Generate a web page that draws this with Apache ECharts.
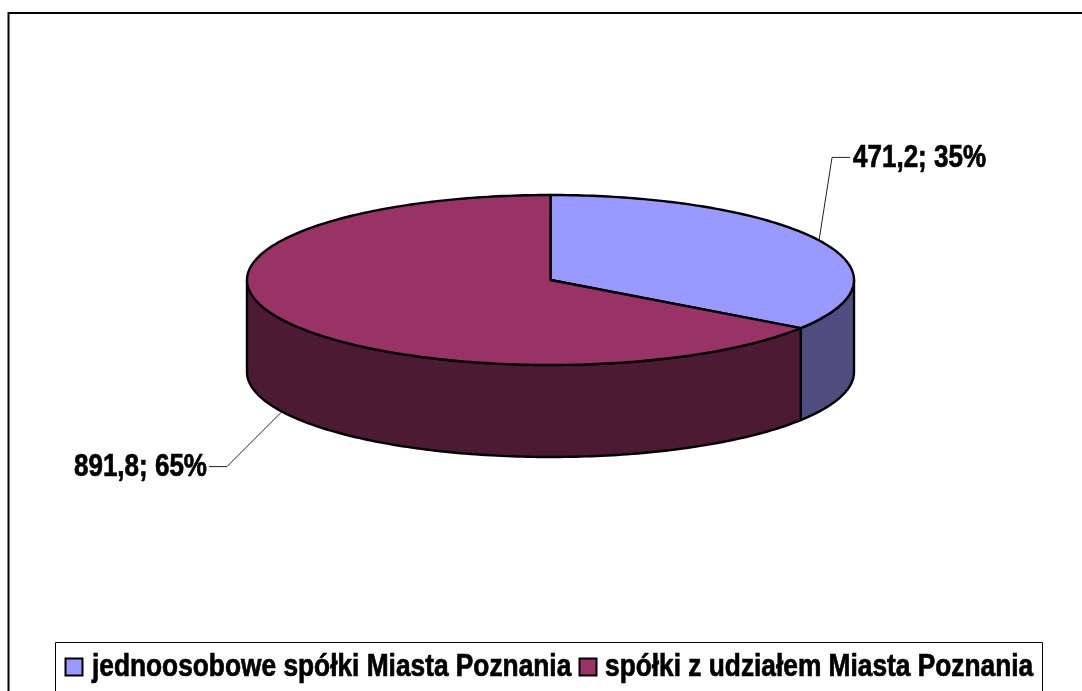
<!DOCTYPE html>
<html>
<head>
<meta charset="utf-8">
<style>
  html, body { margin: 0; padding: 0; background: #fff; overflow: hidden; }
  #chart { width: 1082px; height: 691px; }
</style>
<script src="https://cdn.jsdelivr.net/npm/echarts@6/dist/echarts.min.js"></script>
</head>
<body>
<div id="chart"></div>
<script>
const categories = ['jednoosobowe spółki Miasta Poznania', 'spółki z udziałem Miasta Poznania']
const values = [471.2, 891.8]
const topColors = ['#9999FF', '#993366']
const sideColors = ['#4D4D80', '#4D1A33']

// where the flattened pie sits on the page
const cx = 550.5, cy = 280, rx = 303.5, ry = 85, depth = 92
// leader line: elbow offset from the slice edge, then the stub towards the label
const elbows = [[13, -83], [-55, 55]]
const stubs = [18, -18]
// the original text is Arial stretched upwards, no narrow face is installed so scale it
const fontFamily = '"Liberation Sans", Arial, sans-serif'
const stretchY = 1.18
// legend swatch / text left edges
const legendSwatchX = [65.5, 579.5]
const legendTextX = [92, 605]

const total = values.reduce((a, b) => a + b, 0)

function onRim(t, dy) {
  return [cx + rx * Math.sin(t), cy - ry * Math.cos(t) + (dy || 0)]
}

function arc(from, to, dy) {
  const pts = []
  const n = Math.max(2, Math.ceil((to - from) / (Math.PI / 180)))
  for (let i = 0; i <= n; i++) pts.push(onRim(from + (to - from) * i / n, dy))
  return pts
}

function tallText(text, x, y, size, align) {
  return {
    type: 'text',
    x: x,
    y: y,
    scaleY: stretchY,
    style: {
      x: 0,
      y: 0,
      text: text,
      font: 'bold ' + size + 'px ' + fontFamily,
      fill: '#000',
      stroke: '#000',
      lineWidth: 0.6,
      align: align,
      verticalAlign: 'middle'
    }
  }
}

function renderSlice(idx) {
  const share = values[idx] / total
  const from = values.slice(0, idx).reduce((a, b) => a + b, 0) / total * Math.PI * 2
  const to = from + share * Math.PI * 2
  const mid = (from + to) / 2
  const children = []

  // only the part of the wall that faces the viewer
  const wallFrom = Math.max(from, Math.PI / 2)
  const wallTo = Math.min(to, Math.PI * 1.5)
  if (wallTo > wallFrom) {
    const front = arc(wallFrom, wallTo, 0)
    const back = arc(wallFrom, wallTo, depth).reverse()
    children.push({
      type: 'polygon',
      shape: { points: front.concat(back) },
      style: { fill: sideColors[idx], stroke: '#000', lineWidth: 2.4, lineJoin: 'round' }
    })
  }

  children.push({
    type: 'polygon',
    shape: { points: [[cx, cy]].concat(arc(from, to, 0)) },
    style: { fill: topColors[idx], stroke: '#000', lineWidth: 2.4, lineJoin: 'round' }
  })

  // the leader starts on the wall when the middle of the slice faces front
  const faces = mid > Math.PI / 2 && mid < Math.PI * 1.5
  const a = onRim(mid, faces ? depth : 0)
  const b = [a[0] + elbows[idx][0], a[1] + elbows[idx][1]]
  const c = [b[0] + stubs[idx], b[1]]
  children.push({
    type: 'polyline',
    shape: { points: [a, b, c] },
    style: { fill: null, stroke: '#222', lineWidth: 1 }
  })
  const label = String(values[idx]).replace('.', ',') + '; ' + Math.round(share * 100) + '%'
  children.push(tallText(label, c[0] + (stubs[idx] > 0 ? 3 : -2), c[1] + 1, 26, stubs[idx] > 0 ? 'left' : 'right'))
  return { type: 'group', children: children }
}

function legendElements() {
  const items = [{
    type: 'rect',
    shape: { x: 55.5, y: 642.5, width: 987, height: 80 },
    style: { fill: '#fff', stroke: '#000', lineWidth: 1 }
  }]
  categories.forEach((name, idx) => {
    items.push({
      type: 'rect',
      shape: { x: legendSwatchX[idx], y: 658.5, width: 17, height: 17 },
      style: { fill: topColors[idx], stroke: '#000', lineWidth: 2 }
    })
    items.push(tallText(name, legendTextX[idx], 667, 26.3, 'left'))
  })
  return items
}

const chart = echarts.init(document.getElementById('chart'), null, { renderer: 'canvas' })
chart.setOption({
  animation: false,
  backgroundColor: '#fff',
  graphic: [{
    type: 'rect',
    shape: { x: 8.5, y: 13, width: 1100, height: 720 },
    style: { fill: 'none', stroke: '#000', lineWidth: 2 },
    silent: true,
    z: -1
  }, {
    type: 'group',
    silent: true,
    children: legendElements()
  }],
  series: categories.map((name, idx) => ({
    type: 'custom',
    name: name,
    coordinateSystem: 'none',
    silent: true,
    data: [values[idx]],
    renderItem: () => renderSlice(idx)
  }))
})
</script>
</body>
</html>
